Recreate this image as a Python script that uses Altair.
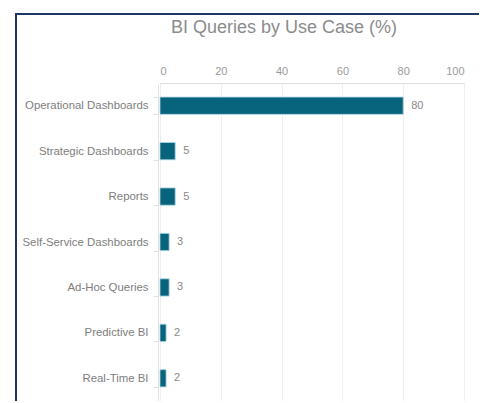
import altair as alt
import pandas as pd

categories = ["Operational Dashboards", "Strategic Dashboards", "Reports",
              "Self-Service Dashboards", "Ad-Hoc Queries", "Predictive BI", "Real-Time BI"]
values = [80, 5, 5, 3, 3, 2, 2]
x_ticks = [0, 20, 40, 60, 80, 100]
title_text = "BI Queries by Use Case (%)"

df = pd.DataFrame({"use_case": categories, "pct": values})

FONT = "Liberation Sans"

y_enc = alt.Y("use_case:N", sort=categories, title=None,
              scale=alt.Scale(paddingInner=0.62, paddingOuter=0.31),
              axis=alt.Axis(labelColor="#7d7d7d", labelFontSize=11.4, labelFont=FONT,
                            domainColor="#e2e2e2", tickColor="#e2e2e2", tickSize=5,
                            tickBand="extent", labelPadding=5, offset=2, grid=False))
x_enc = alt.X("pct:Q", title=None,
              scale=alt.Scale(domain=[0, 100], nice=False),
              axis=alt.Axis(orient="top", values=x_ticks, labelColor="#9a9a9a",
                            labelFontSize=11, labelFont=FONT, ticks=False, domain=False,
                            labelPadding=7, gridColor="#eeeeee", grid=True))

base = alt.Chart(df)

bars = base.mark_bar(color="#08637c", stroke="#a9d6e5", strokeWidth=0.8).encode(
    x=x_enc, y=y_enc)

labels = base.mark_text(align="left", baseline="middle", dx=8, color="#888888",
                        fontSize=11, font=FONT).encode(
    x="pct:Q", y=alt.Y("use_case:N", sort=categories), text="pct:Q")

one = pd.DataFrame({"t": [title_text]})

title = alt.Chart(one).mark_text(align="center", baseline="alphabetic", fontSize=18,
                                 color="#8c8c8c", font=FONT).encode(
    x=alt.value(124), y=alt.value(-50), text="t:N")

frame = alt.Chart(one).mark_rect(
    filled=False, stroke="#1f3864", strokeWidth=2, clip=False).encode(
    x=alt.value(-144), x2=alt.value(324), y=alt.value(-69), y2=alt.value(420))

chart = alt.layer(bars, labels, title, frame).properties(
    width=304, height=318,
    padding={"left": 152, "top": 75, "right": 15, "bottom": 0},
    autosize=alt.AutoSizeParams(type="none"),
).configure_view(stroke=None).configure(background="white")

chart.save("out.html", embed_options={"renderer": "svg", "actions": False})
